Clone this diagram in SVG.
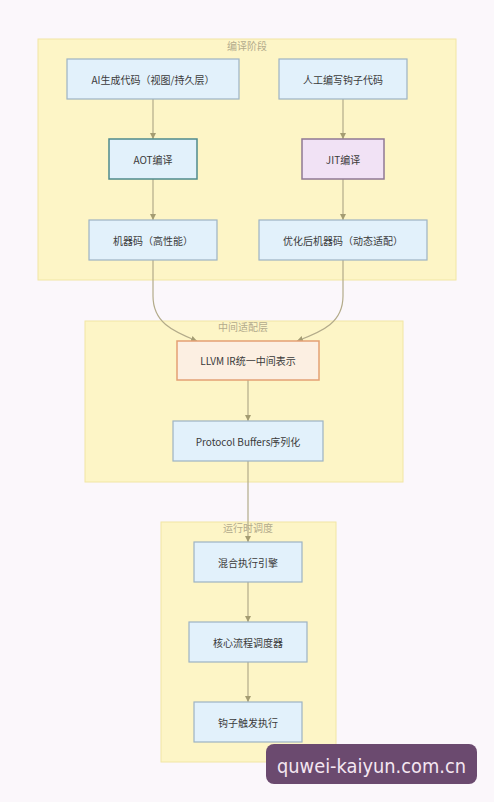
<svg xmlns="http://www.w3.org/2000/svg" width="494" height="802" viewBox="0 0 494 802">
<style>
.cl{fill:#fdf5c6;stroke:#f1e6a4;stroke-width:1}
.cllab{font-family:"Noto Sans CJK SC","Noto Sans",sans-serif;font-size:10px;fill:#b3ab8c;text-anchor:middle}
.nd{fill:#e2f1fb;stroke:#9db3c4;stroke-width:1.2}
.lab{font-family:"Noto Sans CJK SC","Noto Sans",sans-serif;font-size:10px;fill:#3a3a3a;text-anchor:middle;dominant-baseline:central}
.ed{fill:none;stroke:#b3ab8a;stroke-width:1.2}
</style>
<defs>
<marker id="ah" viewBox="0 0 10 10" refX="10" refY="5" markerWidth="6" markerHeight="6" orient="auto" markerUnits="userSpaceOnUse">
<path d="M0,0 L10,5 L0,10 z" fill="#a49c72"/>
</marker>
</defs>
<rect width="494" height="802" fill="#fbf7fb"/>
<g id="cluster-compile">
<rect class="cl" x="38" y="39" width="418" height="241"/>
<text class="cllab" x="247" y="50">编译阶段</text>
</g>
<g id="cluster-middle">
<rect class="cl" x="85" y="321" width="318" height="161"/>
<text class="cllab" x="243" y="331">中间适配层</text>
</g>
<g id="cluster-runtime">
<rect class="cl" x="161" y="522" width="175" height="240"/>
<text class="cllab" x="248" y="532">运行时调度</text>
</g>
<g id="edges">
<path class="ed" d="M153,99 L153,139" marker-end="url(#ah)"/>
<path class="ed" d="M343,99 L343,139" marker-end="url(#ah)"/>
<path class="ed" d="M153,179 L153,220" marker-end="url(#ah)"/>
<path class="ed" d="M343,179 L343,220" marker-end="url(#ah)"/>
<path class="ed" d="M153,260 L153,296 C153,322 172,331 197,341" marker-end="url(#ah)"/>
<path class="ed" d="M343,260 L343,296 C343,322 324,331 297,341" marker-end="url(#ah)"/>
<path class="ed" d="M248,380 L248,421" marker-end="url(#ah)"/>
<path class="ed" d="M248,461 L248,542" marker-end="url(#ah)"/>
<path class="ed" d="M248,582 L248,622" marker-end="url(#ah)"/>
<path class="ed" d="M248,662 L248,702" marker-end="url(#ah)"/>
</g>
<g id="n-ai">
<rect class="nd" x="67" y="59" width="172" height="40"/>
<text class="lab" x="153" y="79">AI生成代码（视图/持久层）</text>
</g>
<g id="n-manual">
<rect class="nd" x="279" y="59" width="128" height="40"/>
<text class="lab" x="343" y="79">人工编写钩子代码</text>
</g>
<g id="n-aot">
<rect x="109" y="139" width="88" height="40" fill="#e2f1fb" stroke="#4f8a8c" stroke-width="1.5"/>
<text class="lab" x="153" y="159">AOT编译</text>
</g>
<g id="n-jit">
<rect x="302" y="139" width="82" height="40" fill="#f1e2f5" stroke="#8f7894" stroke-width="1.5"/>
<text class="lab" x="343" y="159">JIT编译</text>
</g>
<g id="n-mc">
<rect class="nd" x="89" y="220" width="128" height="40"/>
<text class="lab" x="153" y="240">机器码（高性能）</text>
</g>
<g id="n-omc">
<rect class="nd" x="259" y="220" width="168" height="40"/>
<text class="lab" x="343" y="240">优化后机器码（动态适配）</text>
</g>
<g id="n-llvm">
<rect x="177" y="341" width="142" height="39" fill="#fcefe2" stroke="#e3a074" stroke-width="1.5"/>
<text class="lab" x="248" y="360.5">LLVM IR统一中间表示</text>
</g>
<g id="n-pb">
<rect class="nd" x="173" y="421" width="150" height="40"/>
<text class="lab" x="248" y="441">Protocol Buffers序列化</text>
</g>
<g id="n-engine">
<rect class="nd" x="194" y="542" width="108" height="40"/>
<text class="lab" x="248" y="562">混合执行引擎</text>
</g>
<g id="n-sched">
<rect class="nd" x="189" y="622" width="118" height="40"/>
<text class="lab" x="248" y="642">核心流程调度器</text>
</g>
<g id="n-hook">
<rect class="nd" x="194" y="702" width="108" height="40"/>
<text class="lab" x="248" y="722">钩子触发执行</text>
</g>
<g id="watermark">
<rect x="266" y="744" width="211" height="40" rx="8" fill="#6b4a6f"/>
<text x="371.5" y="773" font-family="'DejaVu Sans',sans-serif" font-size="19" fill="#f4e6f1" text-anchor="middle" textLength="189" lengthAdjust="spacingAndGlyphs">quwei-kaiyun.com.cn</text>
</g>
</svg>
